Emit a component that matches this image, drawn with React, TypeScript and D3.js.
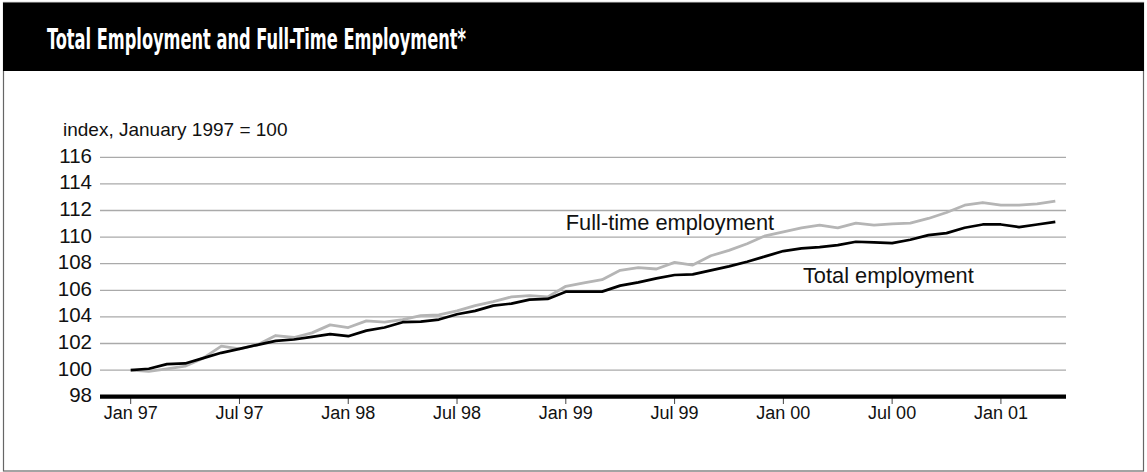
import React from "react";
import * as d3 from "d3";

const W = 1147;
const H = 472;

const title = "Total Employment and Full-Time Employment*";
const unitLabel = "index, January 1997 = 100";

// Monthly, Jan 1997 .. Apr 2001
const totalEmployment = [
  100.0, 100.1, 100.45, 100.5, 100.9, 101.3, 101.6, 101.9, 102.2, 102.3, 102.5, 102.7,
  102.55, 102.97, 103.2, 103.6, 103.65, 103.8, 104.2, 104.45, 104.85, 105.0, 105.3, 105.35,
  105.9, 105.9, 105.9, 106.35, 106.6, 106.9, 107.15, 107.2, 107.5, 107.8, 108.15, 108.55,
  108.95, 109.15, 109.25, 109.4, 109.65, 109.6, 109.55, 109.8, 110.15, 110.3, 110.7, 110.95,
  110.95, 110.75, 110.95, 111.15,
];
const fullTimeEmployment = [
  100.0, 99.9, 100.1, 100.3, 100.9, 101.8, 101.6, 101.9, 102.6, 102.45, 102.8, 103.4,
  103.2, 103.7, 103.6, 103.8, 104.1, 104.15, 104.45, 104.85, 105.15, 105.5, 105.6, 105.5,
  106.3, 106.55, 106.8, 107.5, 107.7, 107.6, 108.1, 107.9, 108.6, 109.0, 109.5, 110.1,
  110.4, 110.7, 110.9, 110.7, 111.05, 110.9, 111.0, 111.05, 111.4, 111.85, 112.4, 112.6,
  112.4, 112.4, 112.5, 112.7,
];
const xTickMonths = [0, 6, 12, 18, 24, 30, 36, 42, 48];
const xTickLabels = ["Jan 97", "Jul 97", "Jan 98", "Jul 98", "Jan 99", "Jul 99", "Jan 00", "Jul 00", "Jan 01"];
const yTicks = [98, 100, 102, 104, 106, 108, 110, 112, 114, 116];

const seriesLabels = [
  { text: "Full-time employment", month: 24, value: 110.53 },
  { text: "Total employment", month: 37.08, value: 106.55 },
];

const FONT = "'Liberation Sans', Arial, Helvetica, sans-serif";

export default function App() {
  const x = d3.scaleLinear().domain([-1.693, 51.59]).range([100, 1066]);
  const y = d3.scaleLinear().domain([98, 116]).range([396.7, 157.3]);
  const line = d3
    .line<number>()
    .x((_, i) => x(i))
    .y((d) => y(d));

  return (
    <svg
      width={W}
      height={H}
      viewBox={`0 0 ${W} ${H}`}
      style={{ position: "absolute", left: 0, top: 0, background: "#fff" }}
    >
      <rect x={0} y={0} width={W} height={H} fill="#fff" />
      {/* frame */}
      <rect x={3.5} y={2.5} width={W - 7} height={H - 3.5} fill="none" stroke="#666" strokeWidth={1.2} />
      {/* header */}
      <rect x={3} y={3} width={W - 6} height={68} fill="#000" />
      <text
        x={47}
        y={49}
        fill="#fff"
        fontFamily="'Liberation Sans Narrow', 'DejaVu Sans Condensed', Arial, sans-serif"
        fontWeight="bold"
        fontSize={29}
        textLength={419}
        lengthAdjust="spacingAndGlyphs"
      >
        {title}
      </text>

      <text x={63} y={136} fontFamily={FONT} fontSize={19} fill="#111">
        {unitLabel}
      </text>

      {/* gridlines */}
      {yTicks.filter((t) => t !== 98).map((t) => (
        <line key={t} x1={100} x2={1066} y1={y(t)} y2={y(t)} stroke="#aaa" strokeWidth={1.3} />
      ))}
      {/* y tick labels */}
      {yTicks.map((t) => (
        <text
          key={"l" + t}
          x={92}
          y={y(t) + 5.5}
          textAnchor="end"
          fontFamily={FONT}
          fontSize={20.5}
          fill="#111"
        >
          {t}
        </text>
      ))}

      {/* x ticks */}
      {xTickMonths.map((m, i) => (
        <g key={"x" + m}>
          <line x1={x(m)} x2={x(m)} y1={398} y2={404} stroke="#444" strokeWidth={1} />
          <text
            x={x(m)}
            y={419}
            textAnchor="middle"
            fontFamily={FONT}
            fontSize={18}
            fill="#111"
          >
            {xTickLabels[i]}
          </text>
        </g>
      ))}

      {/* series */}
      <path d={line(fullTimeEmployment) || ""} fill="none" stroke="#b5b5b5" strokeWidth={2.8} strokeLinejoin="round" />
      <path d={line(totalEmployment) || ""} fill="none" stroke="#000" strokeWidth={2.7} strokeLinejoin="round" />

      {/* axis */}
      <line x1={100} x2={1066} y1={y(98)} y2={y(98)} stroke="#000" strokeWidth={4.2} />

      {/* series labels */}
      {seriesLabels.map((s) => (
        <text key={s.text} x={x(s.month)} y={y(s.value)} fontFamily={FONT} fontSize={21.8} fill="#111">
          {s.text}
        </text>
      ))}
    </svg>
  );
}
